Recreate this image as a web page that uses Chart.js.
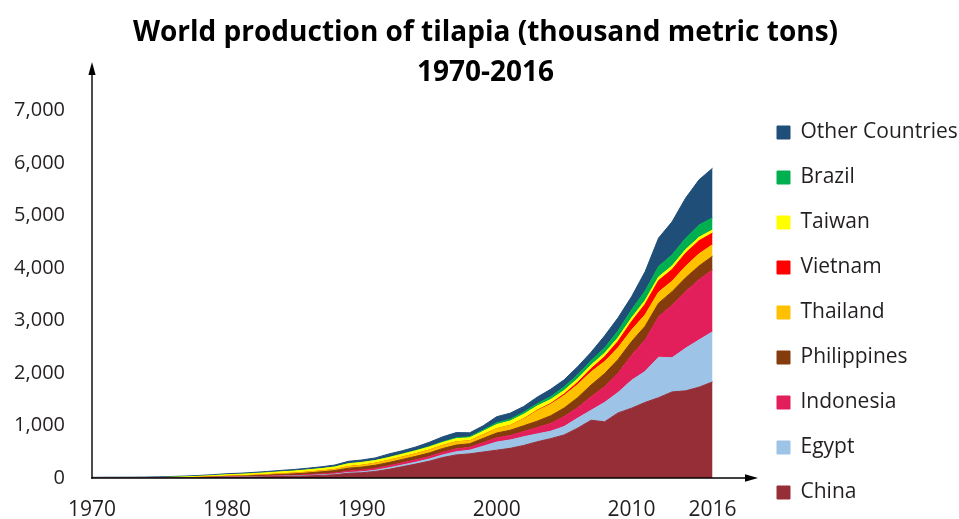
<!DOCTYPE html>
<html>
<head>
<meta charset="utf-8">
<script src="https://cdn.jsdelivr.net/npm/chart.js@4.4.1/dist/chart.umd.min.js"></script>
<style>
html,body{margin:0;padding:0;background:#ffffff;}
canvas{display:block;}
</style>
</head>
<body>
<canvas id="chart" width="959" height="519"></canvas>
<script>
// ---- data (thousand metric tons) ----
const years = [1970,1971,1972,1973,1974,1975,1976,1977,1978,1979,
               1980,1981,1982,1983,1984,1985,1986,1987,1988,1989,
               1990,1991,1992,1993,1994,1995,1996,1997,1998,1999,
               2000,2001,2002,2003,2004,2005,2006,2007,2008,2009,
               2010,2011,2012,2013,2014,2015,2016];
const xTickYears = [1970, 1980, 1990, 2000, 2010, 2016];
const titleLines = ['World production of tilapia (thousand metric tons)', '1970-2016'];

const china = [0,0,0,0,0,0,1,2,5,9,
               15,17,20,24,28,32,40,50,62,90,
               100,125,165,215,265,320,390,440,460,495,
               530,565,620,690,750,820,950,1100,1070,1240,
               1330,1440,1530,1640,1660,1730,1830];
const egypt = [0,0,0,0,0,0,0,0,1,2,
               3,4,5,6,7,8,9,10,12,15,
               18,22,28,32,36,42,50,60,70,110,
               155,160,165,150,140,160,190,190,370,390,
               530,590,770,650,810,900,955];
const indonesia = [0,0,0,0,0,0,0,0,1,2,
               3,4,5,7,9,11,14,17,21,28,
               32,36,40,42,45,48,52,55,55,70,
               80,85,100,120,150,190,200,260,300,370,
               480,600,770,1000,1080,1150,1180];
const philippines = [0,0,0,0,0,0,1,2,3,5,
               8,10,14,18,24,28,34,40,46,54,
               58,60,62,64,66,68,70,72,68,80,
               92,100,110,122,145,163,190,222,248,259,
               259,260,260,260,262,260,260];
const thailand = [0,0,0,0,0,1,1,2,3,4,
               5,6,8,10,12,14,16,18,22,30,
               34,38,42,46,50,55,58,62,55,70,
               82,90,130,200,220,240,250,250,230,225,
               221,220,210,200,220,230,220];
const vietnam = [0,0,0,0,0,0,0,0,0,0,
               0,0,0,0,0,0,0,0,0,0,
               0,0,0,0,0,0,0,0,0,0,
               0,0,3,8,15,25,40,60,90,120,
               160,200,220,220,250,250,220];
const taiwan = [3,4,4,5,6,8,12,16,20,24,
               28,30,32,35,38,40,42,44,48,55,
               55,52,52,54,56,57,58,60,58,65,
               80,85,85,80,75,70,70,70,70,70,
               70,70,70,70,68,65,60];
const brazil = [0,0,0,0,0,0,0,0,0,0,
               0,0,0,0,0,0,0,0,0,1,
               2,3,4,6,8,10,12,16,20,25,
               32,35,40,45,55,67,75,85,100,130,
               155,180,200,210,215,235,230];
const others = [10,11,11,11,12,13,15,16,17,18,
               20,21,23,25,27,30,32,34,36,45,
               44,47,65,60,65,80,95,100,75,80,
               117,115,110,125,140,135,155,160,230,250,
               250,370,540,630,765,860,945];

const seriesNames = ['China','Egypt','Indonesia','Philippines','Thailand','Vietnam','Taiwan','Brazil','Other Countries'];
const seriesValues = [china, egypt, indonesia, philippines, thailand, vietnam, taiwan, brazil, others];
const seriesColors = ['#962e38','#9dc3e6','#e31f5b','#843c0c','#ffc000','#ff0000','#ffff00','#00b050','#1f4e79'];

const TEXT = '#231f20';
const FONT = "'Open Sans', 'DejaVu Sans', sans-serif";

// axes with arrowheads (drawn relative to the chart area)
const arrowAxes = {
  id: 'arrowAxes',
  afterDatasetsDraw(chart) {
    const {ctx, chartArea: a} = chart;
    const x0 = a.left, y0 = a.bottom;
    const yTip = a.top - 48.5;
    const xTip = a.right + 5;
    ctx.save();
    ctx.strokeStyle = '#000';
    ctx.fillStyle = '#000';
    ctx.lineWidth = 1.4;
    ctx.beginPath();
    ctx.moveTo(x0, y0 + 0.7);
    ctx.lineTo(x0, yTip + 10);
    ctx.stroke();
    ctx.beginPath();
    ctx.moveTo(x0, yTip);
    ctx.lineTo(x0 - 3.6, yTip + 13);
    ctx.lineTo(x0 + 3.6, yTip + 13);
    ctx.closePath();
    ctx.fill();
    ctx.beginPath();
    ctx.moveTo(x0 - 0.7, y0);
    ctx.lineTo(xTip - 10, y0);
    ctx.stroke();
    ctx.beginPath();
    ctx.moveTo(xTip, y0);
    ctx.lineTo(xTip - 13, y0 - 3.8);
    ctx.lineTo(xTip - 13, y0 + 3.8);
    ctx.closePath();
    ctx.fill();
    ctx.restore();
  }
};

const datasets = seriesNames.map((name, i) => ({
  label: name,
  data: seriesValues[i],
  backgroundColor: seriesColors[i],
  borderColor: seriesColors[i],
  borderWidth: 1,
  fill: i === 0 ? 'origin' : '-1',
  pointRadius: 0,
  pointHoverRadius: 0,
  pointHitRadius: 0,
  tension: 0
}));

new Chart(document.getElementById('chart'), {
  type: 'line',
  data: { labels: years, datasets },
  plugins: [arrowAxes],
  options: {
    responsive: false,
    animation: false,
    devicePixelRatio: 1,
    layout: { padding: { left: 12, right: 0, top: 0, bottom: -8 } },
    events: [],
    plugins: {
      title: {
        display: true,
        text: titleLines,
        color: '#000',
        font: { family: FONT, size: 28, weight: 'bold', lineHeight: 40 / 28 },
        padding: { top: 13, bottom: 17.5 }
      },
      legend: {
        position: 'right',
        align: 'end',
        reverse: true,
        maxWidth: 206,
        labels: {
          boxWidth: 13,
          boxHeight: 13,
          padding: 24,
          color: TEXT,
          font: { family: FONT, size: 21 }
        }
      },
      tooltip: { enabled: false }
    },
    scales: {
      x: {
        type: 'linear',
        min: 1970,
        max: 2019,
        grid: { display: false, drawTicks: false },
        border: { display: false },
        afterBuildTicks(scale) { scale.ticks = xTickYears.map(v => ({ value: v })); },
        afterFit(scale) { scale.height = 49; },
        ticks: {
          autoSkip: false,
          maxRotation: 0,
          padding: 19,
          color: TEXT,
          font: { family: FONT, size: 21 },
          callback: v => String(v)
        }
      },
      y: {
        stacked: true,
        min: 0,
        max: 7000,
        grid: { display: false, drawTicks: false },
        border: { display: false },
        afterFit(scale) { scale.width = 80; },
        ticks: {
          stepSize: 1000,
          padding: 27,
          color: TEXT,
          font: { family: FONT, size: 20 },
          callback: v => Number(v).toLocaleString('en-US')
        }
      }
    }
  }
});
</script>
</body>
</html>
